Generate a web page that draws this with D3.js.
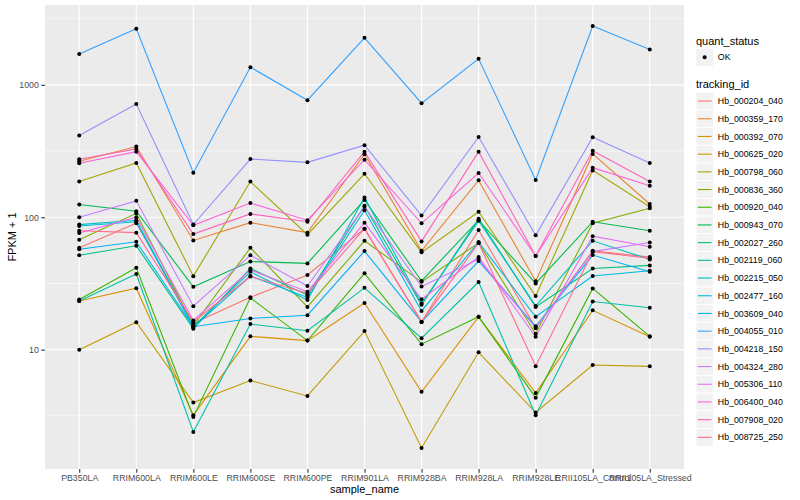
<!DOCTYPE html>
<html><head><meta charset="utf-8">
<script src="https://cdn.jsdelivr.net/npm/d3@7"></script>
<style>body{margin:0;background:#fff}svg{display:block;font-family:"Liberation Sans",Arial,Helvetica,sans-serif}</style>
</head><body><svg id="chart" width="800" height="500"></svg>
<script>
const samples = ["PB350LA","RRIM600LA","RRIM600LE","RRIM600SE","RRIM600PE","RRIM901LA","RRIM928BA","RRIM928LA","RRIM928LE","RRII105LA_Control","RRII105LA_Stressed"];
const trackingIds = ["Hb_000204_040","Hb_000359_170","Hb_000392_070","Hb_000625_020","Hb_000798_060","Hb_000836_360","Hb_000920_040","Hb_000943_070","Hb_002027_260","Hb_002119_060","Hb_002215_050","Hb_002477_160","Hb_003609_040","Hb_004055_010","Hb_004218_150","Hb_004324_280","Hb_005306_110","Hb_006400_040","Hb_007908_020","Hb_008725_250"];
const colors = ["#F8766D","#EA8331","#D89000","#C09B00","#A3A500","#7CAE00","#39B600","#00BB4E","#00BF7D","#00C1A3","#00BFC4","#00BAE0","#00B0F6","#35A2FF","#9590FF","#C77CFF","#E76BF3","#FA62DB","#FF62BC","#FF6C91"];
// FPKM + 1 per tracking id, in sample order
const v_000204_040 = [58.8, 90, 15.8, 24.9, 36.6, 82, 16.2, 80, 14.6, 55.8, 50];
const v_000359_170 = [265, 342, 66.8, 91, 76.5, 299, 55.8, 190, 32.9, 301, 126];
const v_000392_070 = [23.3, 29.1, 3.2, 12.6, 11.7, 22.5, 4.8, 17.7, 4.7, 19.8, 12.5];
const v_000625_020 = [10, 16.1, 3.98, 5.84, 4.47, 13.8, 1.81, 9.55, 3.35, 7.66, 7.48];
const v_000798_060 = [186, 257, 35.9, 186, 73.8, 213, 54.3, 110, 25.4, 226, 120];
const v_000836_360 = [67.6, 107, 15.2, 58.8, 21, 66.4, 32.5, 64, 13.2, 90, 117];
const v_000920_040 = [23.9, 41.5, 3.1, 24.6, 11.7, 37.7, 11, 17.7, 4.34, 29, 12.6];
const v_000943_070 = [125, 111, 29.8, 46.3, 44.8, 135, 33, 95, 31.6, 92.5, 79];
const v_002027_260 = [51.7, 60.9, 14.4, 41, 25.8, 122, 21.8, 97.5, 21, 41, 43.3];
const v_002119_060 = [23.3, 37.3, 2.39, 15.6, 13.9, 29.3, 12.2, 32.4, 3.2, 23.1, 20.7];
const v_002215_050 = [88, 95, 15, 38.7, 23.7, 141, 22.3, 94, 21.4, 66.4, 48];
const v_002477_160 = [86, 92.5, 14.7, 36, 24.8, 113, 19.6, 65, 17.7, 36, 39.4];
const v_003609_040 = [57.4, 65.3, 14.9, 17.2, 18.2, 55.5, 16.2, 46.7, 15, 51.8, 38.7];
const v_004055_010 = [1708, 2656, 217, 1361, 766, 2268, 728, 1573, 191, 2780, 1849];
const v_004218_150 = [414, 718, 88, 275, 260, 350, 103, 404, 73, 402, 257];
const v_004324_280 = [100, 133, 21.3, 51.6, 30.2, 120, 30, 48.3, 14.6, 55, 64.5];
const v_005306_110 = [76, 100, 16.6, 40, 27.4, 91, 24, 50, 12.5, 72, 59.8];
const v_006400_040 = [256, 313, 87, 128, 95, 272, 90, 216, 51, 237, 173];
const v_007908_020 = [274, 328, 74.6, 106, 92.5, 313, 65.7, 313, 51, 318, 186];
const v_008725_250 = [79, 76.5, 16.2, 35.7, 26.6, 82, 16.2, 64, 7.5, 55, 49];
const seriesValues = [v_000204_040,v_000359_170,v_000392_070,v_000625_020,v_000798_060,v_000836_360,v_000920_040,v_000943_070,v_002027_260,v_002119_060,v_002215_050,v_002477_160,v_003609_040,v_004055_010,v_004218_150,v_004324_280,v_005306_110,v_006400_040,v_007908_020,v_008725_250];
const yMajor = [10, 100, 1000];
const yMinor = [Math.sqrt(10), Math.sqrt(1000), Math.sqrt(100000), Math.sqrt(10000000)];

const series = trackingIds.map((id,i)=>({id, color: colors[i], values: samples.map((s,j)=>({s, v: seriesValues[i][j]}))}));

const svg = d3.select("#chart");
const P = {l:45, r:684, t:5, b:469};
const x = d3.scalePoint().domain(samples).range([P.l, P.r]).padding(0.6);
const all = seriesValues.flat();
const lmin = Math.log10(d3.min(all)), lmax = Math.log10(d3.max(all));
const pad = (lmax-lmin)*0.05;
const y = d3.scaleLog().domain([Math.pow(10,lmin-pad), Math.pow(10,lmax+pad)]).range([P.b, P.t]);

svg.append("rect").attr("width",800).attr("height",500).attr("fill","#fff");
svg.append("rect").attr("x",P.l).attr("y",P.t).attr("width",P.r-P.l).attr("height",P.b-P.t).attr("fill","#EBEBEB");
const g = svg.append("g");
g.selectAll(".minor").data(yMinor.filter(d=>y(d)>P.t && y(d)<P.b)).join("line")
  .attr("x1",P.l).attr("x2",P.r).attr("y1",d=>y(d)).attr("y2",d=>y(d)).attr("stroke","#fff").attr("stroke-width",0.55);
g.selectAll(".major").data(yMajor).join("line")
  .attr("x1",P.l).attr("x2",P.r).attr("y1",d=>y(d)).attr("y2",d=>y(d)).attr("stroke","#fff").attr("stroke-width",1.1);
g.selectAll(".vmaj").data(samples).join("line")
  .attr("x1",d=>x(d)).attr("x2",d=>x(d)).attr("y1",P.t).attr("y2",P.b).attr("stroke","#fff").attr("stroke-width",1.1);

const line = d3.line().x(d=>x(d.s)).y(d=>y(d.v));
svg.append("g").selectAll("path").data(series).join("path")
  .attr("d",d=>line(d.values)).attr("fill","none").attr("stroke",d=>d.color).attr("stroke-width",1.1);
svg.append("g").selectAll("g").data(series).join("g").selectAll("circle").data(d=>d.values).join("circle")
  .attr("cx",d=>x(d.s)).attr("cy",d=>y(d.v)).attr("r",2).attr("fill","#000");

// axes
const xAxis = d3.axisBottom(x).tickSize(3.7).tickPadding(2.5);
const gx = svg.append("g").attr("transform",`translate(0,${P.b})`).call(xAxis);
const yAxis = d3.axisLeft(y).tickValues(yMajor).tickFormat(d3.format("d")).tickSize(3.7).tickPadding(2.5);
const gy = svg.append("g").attr("transform",`translate(${P.l},0)`).call(yAxis);
[gx,gy].forEach(a=>{
  a.select(".domain").remove();
  a.selectAll(".tick line").attr("stroke","#333333").attr("stroke-width",1.1);
  a.selectAll(".tick text").attr("fill","#4D4D4D").style("font-size","8.8px").style("font-family","Liberation Sans, Arial, sans-serif");
});
svg.append("text").attr("x",(P.l+P.r)/2).attr("y",493).attr("text-anchor","middle").attr("font-size",11).attr("fill","#000").text("sample_name");
svg.append("text").attr("transform",`translate(15.5,${(P.t+P.b)/2}) rotate(-90)`).attr("text-anchor","middle").attr("font-size",11).attr("fill","#000").text("FPKM + 1");

// legends
const L = svg.append("g");
const lx = 696, kw = 17.3, kh = 17.7;
L.append("text").attr("x",lx).attr("y",45).attr("font-size",11).text("quant_status");
L.append("rect").attr("x",lx).attr("y",48.5).attr("width",kw).attr("height",kh).attr("fill","#F2F2F2").attr("stroke","#fff").attr("stroke-width",0.5);
L.append("circle").attr("cx",lx+kw/2).attr("cy",48.5+kh/2).attr("r",2).attr("fill","#000");
L.append("text").attr("x",lx+kw+4.5).attr("y",48.5+kh/2+3.1).attr("font-size",8.8).text("OK");
L.append("text").attr("x",lx).attr("y",88).attr("font-size",11).text("tracking_id");
const k0 = 92.2;
const items = L.selectAll(".key").data(series).join("g").attr("transform",(d,i)=>`translate(${lx},${k0+i*kh})`);
items.append("rect").attr("width",kw).attr("height",kh).attr("fill","#F2F2F2").attr("stroke","#fff").attr("stroke-width",0.8);
items.append("line").attr("x1",1.7).attr("x2",kw-1.7).attr("y1",kh/2).attr("y2",kh/2).attr("stroke",d=>d.color).attr("stroke-width",1.1);
items.append("text").attr("x",kw+4.5).attr("y",kh/2+3.1).attr("font-size",8.8).text(d=>d.id);
</script></body></html>
